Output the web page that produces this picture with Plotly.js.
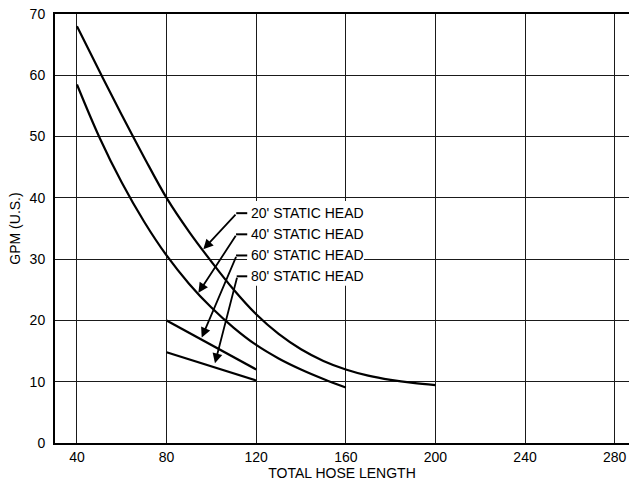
<!DOCTYPE html>
<html>
<head>
<meta charset="utf-8">
<script src="https://cdn.plot.ly/plotly-3.0.1.min.js"></script>
<style>html,body{margin:0;padding:0;background:#fff;}#chart{width:629px;height:483px;}</style>
</head>
<body>
<div id="chart"></div>
<script>
// Data
const x20 = [40, 50, 60, 70, 80, 90, 100, 110, 120, 130, 140, 150, 160, 170, 180, 190, 200];
const y20 = [68, 60.7, 53.5, 46.6, 40, 34.5, 29.6, 25.0, 21.0, 17.8, 15.3, 13.4, 12.0, 11.0, 10.3, 9.8, 9.45];
const x40 = [40, 50, 60, 70, 80, 90, 100, 110, 120, 130, 140, 150, 160];
const y40 = [58.5, 49.9, 42.5, 36.1, 30.6, 26.0, 22.1, 18.8, 16.0, 13.8, 12.0, 10.45, 9.05];
const x60 = [80, 120];
const y60 = [20, 12];
const x80 = [80, 120];
const y80 = [14.8, 10.2];
const seriesLabels = ["20' STATIC HEAD", "40' STATIC HEAD", "60' STATIC HEAD", "80' STATIC HEAD"];
const xTicks = [40, 80, 120, 160, 200, 240, 280];
const yTicks = [0, 10, 20, 30, 40, 50, 60, 70];
// arrow tips (where each label points) and bend points
const tipX = [96.4, 94.2, 95.7, 101.6];
const tipY = [31.6, 24.5, 17.2, 13.0];
const bendX = [111.4, 111.3, 111.3, 111.6];
const labelY = [37.6, 34.15, 30.7, 27.3];

const FONT = "'Liberation Sans', Arial, Helvetica, sans-serif";
const lineStyle = {color: '#000', width: 2.2};

const traces = [
  {x: x20, y: y20, mode: 'lines', line: Object.assign({shape: 'spline', smoothing: 1}, lineStyle), name: seriesLabels[0], hoverinfo: 'x+y'},
  {x: x40, y: y40, mode: 'lines', line: Object.assign({shape: 'spline', smoothing: 1}, lineStyle), name: seriesLabels[1], hoverinfo: 'x+y'},
  {x: x60, y: y60, mode: 'lines', line: lineStyle, name: seriesLabels[2], hoverinfo: 'x+y'},
  {x: x80, y: y80, mode: 'lines', line: lineStyle, name: seriesLabels[3], hoverinfo: 'x+y'}
];

const annotations = [];
const shapes = [
  // white box behind the labels (hides gridlines)
  {type: 'rect', xref: 'x', yref: 'y', x0: 115.9, x1: 168.1, y0: 25.65, y1: 39.5,
   fillcolor: '#fff', line: {width: 0}, layer: 'above'}
];
for (let i = 0; i < seriesLabels.length; i++) {
  annotations.push({
    xref: 'x', yref: 'y', x: 117.0, y: labelY[i], text: seriesLabels[i],
    showarrow: false, xanchor: 'left', yanchor: 'middle',
    font: {family: FONT, size: 14, color: '#000'}
  });
  annotations.push({
    xref: 'x', yref: 'y', axref: 'x', ayref: 'y',
    x: tipX[i], y: tipY[i], ax: bendX[i], ay: labelY[i] - 0.1, text: '',
    showarrow: true, arrowhead: 2, arrowsize: 1.1, arrowwidth: 1.8, arrowcolor: '#000', standoff: 0
  });
  shapes.push({type: 'line', xref: 'x', yref: 'y', x0: bendX[i] - 0.3, x1: 116.0, y0: labelY[i] - 0.1, y1: labelY[i] - 0.1,
    line: {color: '#000', width: 2}, layer: 'above'});
}

const layout = {
  width: 629, height: 483,
  margin: {l: 55, r: 0, t: 14, b: 40},
  paper_bgcolor: '#fff', plot_bgcolor: '#fff',
  showlegend: false,
  font: {family: FONT, size: 14, color: '#000'},
  xaxis: {
    range: [30.2, 286.4], tickvals: xTicks, ticktext: xTicks.map(String),
    showgrid: true, gridcolor: '#1a1a1a', gridwidth: 1,
    showline: true, linecolor: '#000', linewidth: 2, mirror: true,
    ticks: '',
    zeroline: false,
    tickfont: {family: FONT, size: 14, color: '#000'},
    title: {text: 'TOTAL HOSE LENGTH', font: {family: FONT, size: 14, color: '#000'}, standoff: 4}
  },
  yaxis: {
    range: [0, 70], tickvals: yTicks, ticktext: yTicks.map(String),
    showgrid: true, gridcolor: '#1a1a1a', gridwidth: 1,
    showline: true, linecolor: '#000', linewidth: 2,
    ticks: 'outside', ticklen: 5, tickcolor: 'rgba(0,0,0,0)',
    zeroline: false,
    tickfont: {family: FONT, size: 14, color: '#000'},
    title: {text: 'GPM (U.S.)', font: {family: FONT, size: 14, color: '#000'}, standoff: 6}
  },
  shapes: shapes,
  annotations: annotations
};

Plotly.newPlot('chart', traces, layout, {staticPlot: true, displayModeBar: false});
</script>
</body>
</html>
